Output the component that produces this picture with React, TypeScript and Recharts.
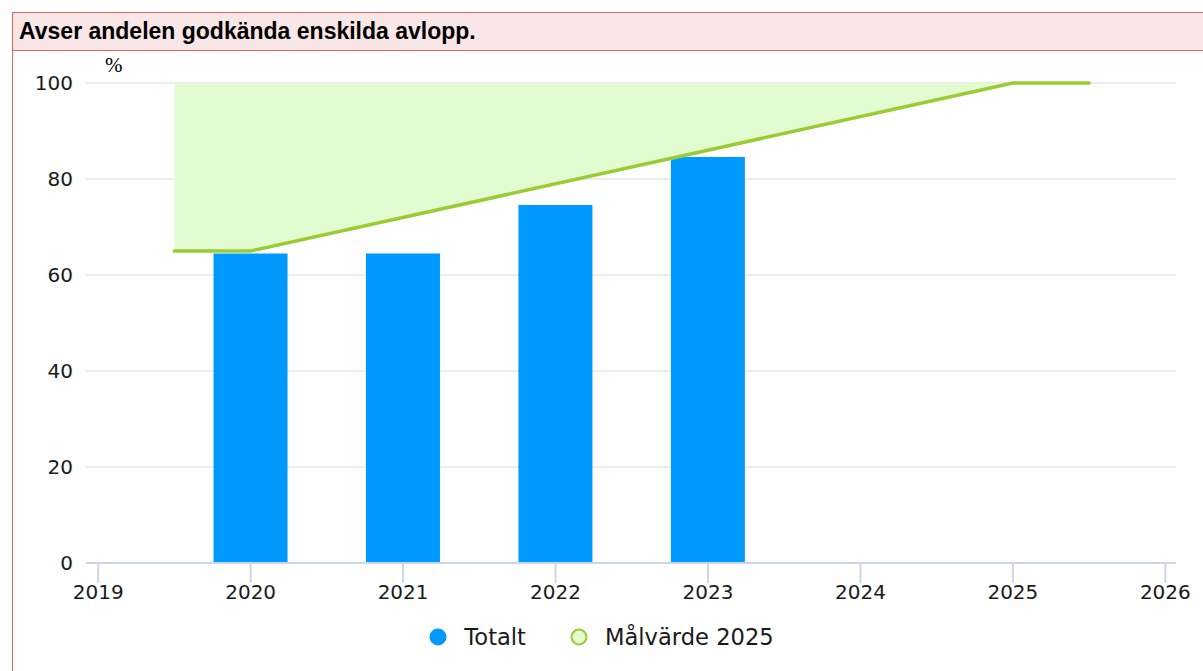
import React from 'react';
import {
  ComposedChart,
  Bar,
  Line,
  Area,
  XAxis,
  YAxis,
  CartesianGrid,
  Legend,
} from 'recharts';

// Totalt per år
const years = [2020, 2021, 2022, 2023];
const totalt = [64.5, 64.5, 74.6, 84.6];

// Målvärde 2025 (linje + ytan upp till 100)
const targetYears = [2019.5, 2020, 2025, 2025.5];
const targetValues = [65, 65, 100, 100];

const xTicks = [2019, 2020, 2021, 2022, 2023, 2024, 2025, 2026];
const yTicks = [0, 20, 40, 60, 80, 100];

const legendOrder = ['totalt', 'target'];

const barData = years.map((x, i) => ({ x, totalt: totalt[i] }));
const targetData = targetYears.map((x, i) => ({
  x,
  target: targetValues[i],
  band: [targetValues[i], 100],
}));

const BLUE = '#0099ff';
const GREEN = '#99cc33';
const LIGHT_GREEN = '#e2fbd0';
const FONT = '"DejaVu Sans", sans-serif';

const LegendContent = (props: any) => {
  const payload = (props.payload || [])
    .filter((p: any) => legendOrder.includes(p.dataKey))
    .sort((a: any, b: any) => legendOrder.indexOf(a.dataKey) - legendOrder.indexOf(b.dataKey));
  return (
    <div
      style={{
        display: 'flex',
        justifyContent: 'center',
        alignItems: 'center',
        height: 34,
        fontFamily: FONT,
        fontSize: 22.6,
        color: '#1a1a1a',
      }}
    >
      {payload.map((p: any) => {
        const isTarget = p.dataKey === 'target';
        return (
          <div key={p.value} style={{ display: 'flex', alignItems: 'center', margin: '0 22px' }}>
            <svg width={18} height={18} style={{ marginRight: 17 }}>
              <circle
                cx={9}
                cy={9}
                r={isTarget ? 7.5 : 8.5}
                fill={isTarget ? LIGHT_GREEN : BLUE}
                stroke={isTarget ? GREEN : 'none'}
                strokeWidth={2}
              />
            </svg>
            <span>{p.value}</span>
          </div>
        );
      })}
    </div>
  );
};

const App = () => {
  return (
    <div style={{ position: 'absolute', left: 0, top: 0, width: 1203, height: 671, background: '#fff' }}>
      {/* ram och rubrik */}
      <div
        style={{
          position: 'absolute',
          left: 12,
          top: 12,
          width: 1191,
          height: 659,
          borderLeft: '1.5px solid #e06666',
          boxSizing: 'border-box',
        }}
      />
      <div
        style={{
          position: 'absolute',
          left: 12,
          top: 12,
          width: 1191,
          height: 39,
          background: '#f9e6e6',
          borderTop: '1.5px solid #e06666',
          borderBottom: '1.5px solid #e06666',
          borderLeft: '1.5px solid #e06666',
          boxSizing: 'border-box',
          fontFamily: '"Liberation Sans", Arial, sans-serif',
          fontWeight: 'bold',
          fontSize: 23,
          lineHeight: '36px',
          paddingLeft: 6,
          color: '#000',
        }}
      >
        Avser andelen godkända enskilda avlopp.
      </div>
      <div
        style={{
          position: 'absolute',
          left: 105,
          top: 53,
          fontFamily: '"Liberation Serif", serif',
          fontSize: 21,
          color: '#000',
        }}
      >
        %
      </div>
      <div style={{ position: 'absolute', left: 0, top: 0 }}>
        <ComposedChart
          width={1203}
          height={671}
          data={barData}
          margin={{ top: 83, right: 27, left: 16, bottom: 78 }}
        >
          <CartesianGrid vertical={false} stroke="#e6e6e6" strokeWidth={1.5} />
          <XAxis
            type="number"
            dataKey="x"
            domain={[2018.92, 2026.07]}
            ticks={xTicks}
            interval={0}
            allowDataOverflow
            height={30}
            tickSize={20}
            tickMargin={2}
            axisLine={{ stroke: '#ccd6eb', strokeWidth: 2 }}
            tickLine={{ stroke: '#ccd6eb', strokeWidth: 2 }}
            tick={{ fill: '#1a1a1a', fontSize: 20, fontFamily: FONT }}
          />
          <YAxis
            type="number"
            domain={[0, 100]}
            ticks={yTicks}
            width={70}
            axisLine={false}
            tickLine={false}
            tickMargin={7}
            tick={{ fill: '#1a1a1a', fontSize: 20, fontFamily: FONT }}
          />
          <Area
            data={targetData}
            dataKey="band"
            type="linear"
            stroke="none"
            fill={LIGHT_GREEN}
            fillOpacity={1}
            legendType="none"
            isAnimationActive={false}
          />
          <Bar
            dataKey="totalt"
            name="Totalt"
            fill={BLUE}
            barSize={74}
            isAnimationActive={false}
          />
          <Line
            data={targetData}
            dataKey="target"
            name="Målvärde 2025"
            type="linear"
            stroke={GREEN}
            strokeWidth={3.5}
            strokeLinecap="round"
            dot={false}
            activeDot={false}
            isAnimationActive={false}
          />
          <Legend
            verticalAlign="middle"
            layout="horizontal"
            wrapperStyle={{ top: 620, left: 0, width: 1203 }}
            content={LegendContent}
          />
        </ComposedChart>
      </div>
    </div>
  );
};

export default App;
